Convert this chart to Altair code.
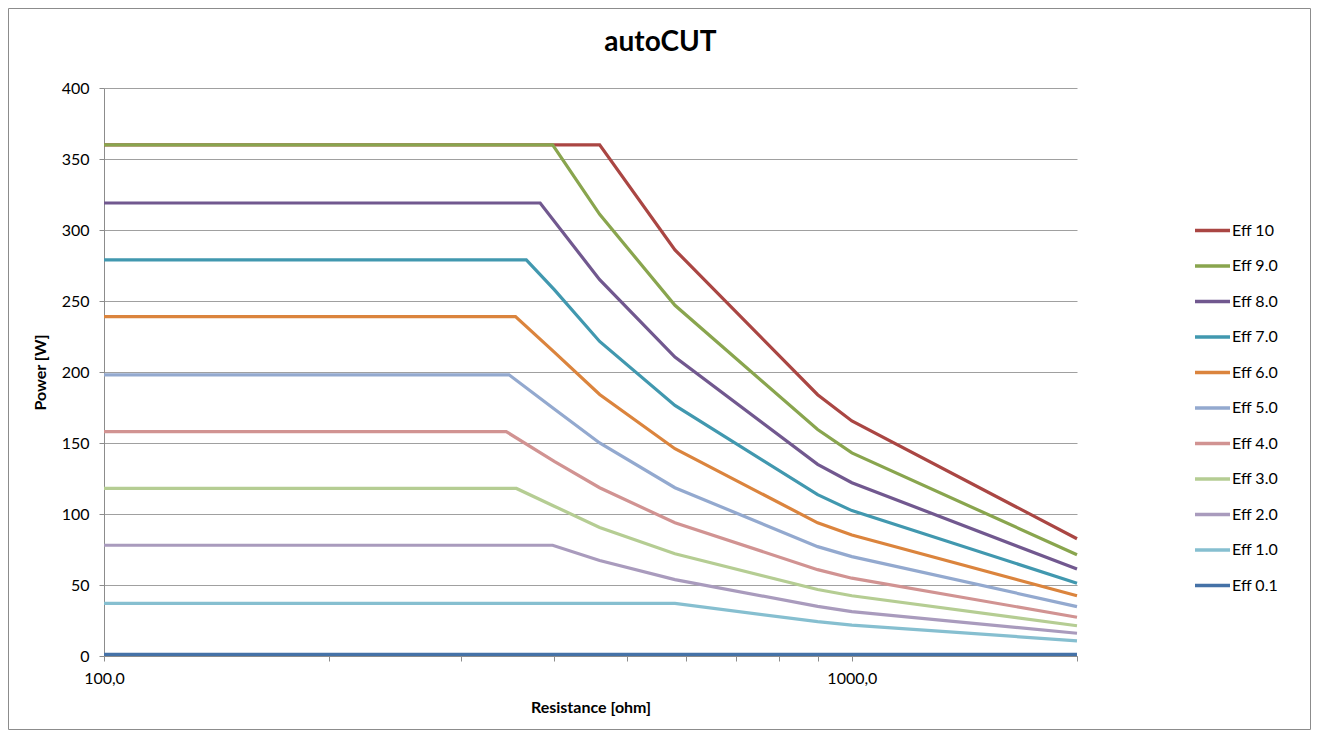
import altair as alt
import pandas as pd

# ---- data ----
series_names = ["Eff 10", "Eff 9.0", "Eff 8.0", "Eff 7.0", "Eff 6.0", "Eff 5.0",
                "Eff 4.0", "Eff 3.0", "Eff 2.0", "Eff 1.0", "Eff 0.1"]
series_colors = ["#AA4643", "#89A54E", "#71588F", "#4198AF", "#DB843D", "#93A9CF",
                 "#D19392", "#B5CD93", "#A99BBD", "#86BFD0", "#4572A7"]

r_eff10 = [100, 460, 580, 900, 1000, 2000]
p_eff10 = [360, 360, 286, 184, 165.5, 82.6]
r_eff9 = [100, 398, 460, 580, 900, 1000, 2000]
p_eff9 = [360, 360, 311, 247, 159.5, 143, 71.3]
r_eff8 = [100, 383, 460, 580, 900, 1000, 2000]
p_eff8 = [319, 319, 265, 210.5, 135, 122, 61.2]
r_eff7 = [100, 367, 400, 460, 580, 900, 1000, 2000]
p_eff7 = [279, 279, 258, 221.5, 176.5, 113.6, 102.4, 51.3]
r_eff6 = [100, 355, 400, 460, 580, 900, 1000, 2000]
p_eff6 = [239, 239, 214, 184.2, 146, 93.8, 85.2, 42.4]
r_eff5 = [100, 348, 400, 460, 580, 900, 1000, 2000]
p_eff5 = [198, 198, 174, 150, 118.5, 77, 70, 34.8]
r_eff4 = [100, 345, 400, 460, 580, 900, 1000, 2000]
p_eff4 = [158, 158, 137, 118.5, 93.8, 60.8, 54.8, 27.3]
r_eff3 = [100, 356, 400, 460, 580, 900, 1000, 2000]
p_eff3 = [118, 118, 105.5, 90.5, 72, 46.8, 42.4, 21.3]
r_eff2 = [100, 398, 460, 580, 900, 1000, 2000]
p_eff2 = [78, 78, 67.3, 53.8, 34.9, 31.3, 16.0]
r_eff1 = [100, 580, 900, 1000, 2000]
p_eff1 = [37, 37, 24.2, 21.8, 10.7]
r_eff01 = [100, 2000]
p_eff01 = [1.2, 1.2]

r_lists = [r_eff10, r_eff9, r_eff8, r_eff7, r_eff6, r_eff5, r_eff4, r_eff3, r_eff2, r_eff1, r_eff01]
p_lists = [p_eff10, p_eff9, p_eff8, p_eff7, p_eff6, p_eff5, p_eff4, p_eff3, p_eff2, p_eff1, p_eff01]

x_tick_values = [100, 200, 300, 400, 500, 600, 700, 800, 900, 1000, 2000]
x_label_values = [100, 1000]
x_label_texts = ["100,0", "1000,0"]
y_tick_values = [0, 50, 100, 150, 200, 250, 300, 350, 400]

rows = []
for name, rs, ps in zip(series_names, r_lists, p_lists):
    for r, p in zip(rs, ps):
        rows.append({"series": name, "resistance": r, "power": p})
df = pd.DataFrame(rows)

label_expr = " : ".join(f"datum.value == {v} ? '{t}'" for v, t in zip(x_label_values, x_label_texts)) + " : ''"

FONT = "Lato"
GRAY = "#8C8C8C"

lines = alt.Chart(df).mark_line(strokeWidth=3.2, clip=False).encode(
    x=alt.X("resistance:Q",
            scale=alt.Scale(type="log", domain=[100, 2000], nice=False),
            axis=alt.Axis(values=x_tick_values, labelExpr=label_expr, title="Resistance [ohm]",
                          grid=False, tickSize=5, labelPadding=9, titlePadding=13,
                          labelFontSize=16, titleFontSize=16, titleFontWeight="bold",
                          labelColor="#000000", titleColor="#000000",
                          domainColor=GRAY, tickColor=GRAY, labelFlush=False)),
    y=alt.Y("power:Q",
            scale=alt.Scale(domain=[0, 400], nice=False),
            axis=alt.Axis(values=y_tick_values, title="Power [W]", grid=True, gridColor="#A0A0A0",
                          tickSize=5, labelPadding=10, titlePadding=13,
                          labelFontSize=16, titleFontSize=16, titleFontWeight="bold",
                          labelColor="#000000", titleColor="#000000",
                          domainColor=GRAY, tickColor=GRAY)),
    color=alt.Color("series:N",
                    scale=alt.Scale(domain=series_names, range=series_colors),
                    legend=alt.Legend(title=None, orient="none", legendX=1089, legendY=123,
                                      symbolType="stroke", symbolSize=1225, symbolStrokeWidth=3.5,
                                      labelFontSize=16, labelOffset=0, rowPadding=7.5,
                                      labelColor="#000000", padding=0)),
)

frame = alt.Chart(alt.Data(values=[{"a": 1}])).mark_rect(
    filled=False, stroke=GRAY, strokeWidth=1, clip=False
).encode(
    x=alt.value(-95.5), x2=alt.value(1206.5), y=alt.value(-79.5), y2=alt.value(641.5)
)

chart = alt.layer(frame, lines).properties(
    width=973, height=568,
    title=alt.TitleParams("autoCUT", font=FONT, fontSize=28, fontWeight="bold",
                          anchor="middle", dx=70, offset=0, dy=49, color="#000000"),
    autosize=alt.AutoSizeParams(type="none"),
    padding={"left": 96, "top": 80, "right": 234, "bottom": 74},
).configure(font=FONT).configure_view(stroke=None)

chart.save("out.html", embed_options={"renderer": "svg", "actions": False})
